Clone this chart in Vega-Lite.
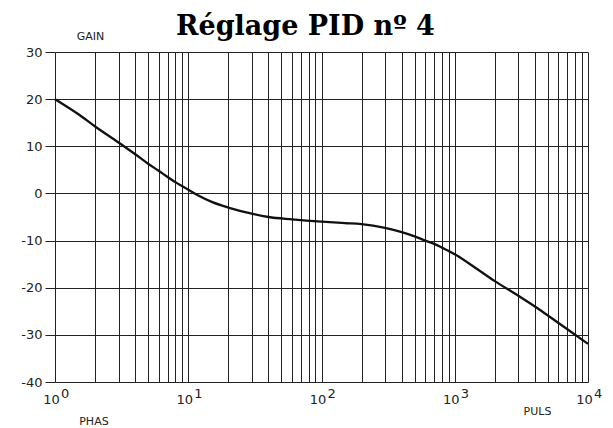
{
  "$schema": "https://vega.github.io/schema/vega-lite/v6.json",
  "width": 533,
  "height": 330,
  "autosize": "none",
  "padding": {"left": 55, "top": 52, "right": 25, "bottom": 46},
  "background": "white",
  "title": {
    "text": "Réglage PID nº 4",
    "font": "DejaVu Serif",
    "fontSize": 27,
    "fontWeight": "bold",
    "color": "black",
    "anchor": "middle",
    "dx": -16,
    "baseline": "alphabetic",
    "offset": -32
  },
  "config": {
    "view": {"stroke": null},
    "axis": {
      "labelFont": "DejaVu Sans",
      "labelFontSize": 13,
      "labelColor": "#222",
      "titleFont": "DejaVu Sans",
      "titleFontWeight": "normal",
      "titleFontSize": 11,
      "titleColor": "#222",
      "gridColor": "#222",
      "gridOpacity": 1,
      "gridWidth": 1,
      "domain": false
    }
  },
  "layer": [
    {
      "data": {
        "values": [
          {"w": 1, "g": 20},
          {"w": 1.5, "g": 16.8},
          {"w": 2, "g": 14.2},
          {"w": 3, "g": 10.8},
          {"w": 4, "g": 8.3},
          {"w": 5, "g": 6.3},
          {"w": 6, "g": 4.8},
          {"w": 7, "g": 3.5},
          {"w": 8, "g": 2.4},
          {"w": 10, "g": 0.8},
          {"w": 12, "g": -0.5},
          {"w": 15, "g": -1.8},
          {"w": 20, "g": -3.0},
          {"w": 30, "g": -4.3},
          {"w": 40, "g": -5.0},
          {"w": 60, "g": -5.5},
          {"w": 100, "g": -6.0},
          {"w": 150, "g": -6.3},
          {"w": 200, "g": -6.5},
          {"w": 300, "g": -7.3},
          {"w": 400, "g": -8.2},
          {"w": 500, "g": -9.1},
          {"w": 600, "g": -10.0},
          {"w": 700, "g": -10.7},
          {"w": 800, "g": -11.5},
          {"w": 1000, "g": -12.9},
          {"w": 1500, "g": -16.2},
          {"w": 2000, "g": -18.6},
          {"w": 3000, "g": -21.7},
          {"w": 4000, "g": -24.0},
          {"w": 5000, "g": -25.9},
          {"w": 7000, "g": -28.8},
          {"w": 10000, "g": -31.9}
        ]
      },
      "mark": {"type": "line", "color": "#111", "strokeWidth": 2.3, "interpolate": "monotone"},
      "encoding": {
        "x": {
          "field": "w",
          "type": "quantitative",
          "scale": {"type": "log", "domain": [1, 10000]},
          "axis": {
            "values": [1,2,3,4,5,6,7,8,9,10,20,30,40,50,60,70,80,90,100,200,300,400,500,600,700,800,900,1000,2000,3000,4000,5000,6000,7000,8000,9000,10000],
            "labelExpr": "(datum.value == 1 || datum.value == 10 || datum.value == 100 || datum.value == 1000 || datum.value == 10000) ? '10' : ''",
            "tickSize": 0,
            "labelPadding": 11,
            "labelOffset": -4,
            "labelFlush": false,
            "labelOverlap": false,
            "title": "PULS",
            "titleX": 482,
            "titleY": 23,
            "titleBaseline": "top",
            "titleAlign": "center",
            "titleAnchor": null
          }
        },
        "y": {
          "field": "g",
          "type": "quantitative",
          "scale": {"domain": [-40, 30], "nice": false},
          "axis": {
            "values": [-40, -30, -20, -10, 0, 10, 20, 30],
            "labelExpr": "replace(datum.label, '−', '-')",
            "tickSize": 10,
            "tickColor": "#222",
            "labelPadding": 3,
            "title": "GAIN",
            "titleAngle": 0,
            "titleX": 35,
            "titleY": -16,
            "titleBaseline": "middle",
            "titleAlign": "center"
          }
        }
      }
    },
    {
      "data": {
        "values": [
          {"p": 1, "e": "0"},
          {"p": 10, "e": "1"},
          {"p": 100, "e": "2"},
          {"p": 1000, "e": "3"},
          {"p": 10000, "e": "4"}
        ]
      },
      "mark": {"type": "text", "font": "DejaVu Sans", "fontSize": 13, "color": "#222", "align": "left", "baseline": "alphabetic", "dx": 6, "dy": 16},
      "encoding": {
        "x": {"field": "p", "type": "quantitative"},
        "y": {"datum": -40},
        "text": {"field": "e"}
      }
    },
    {
      "data": {"values": [{"t": "PHAS"}]},
      "mark": {"type": "text", "font": "DejaVu Sans", "fontSize": 11, "color": "#222", "align": "center", "baseline": "middle"},
      "encoding": {
        "x": {"datum": 1.96},
        "y": {"datum": -48.5},
        "text": {"field": "t"}
      }
    }
  ]
}
